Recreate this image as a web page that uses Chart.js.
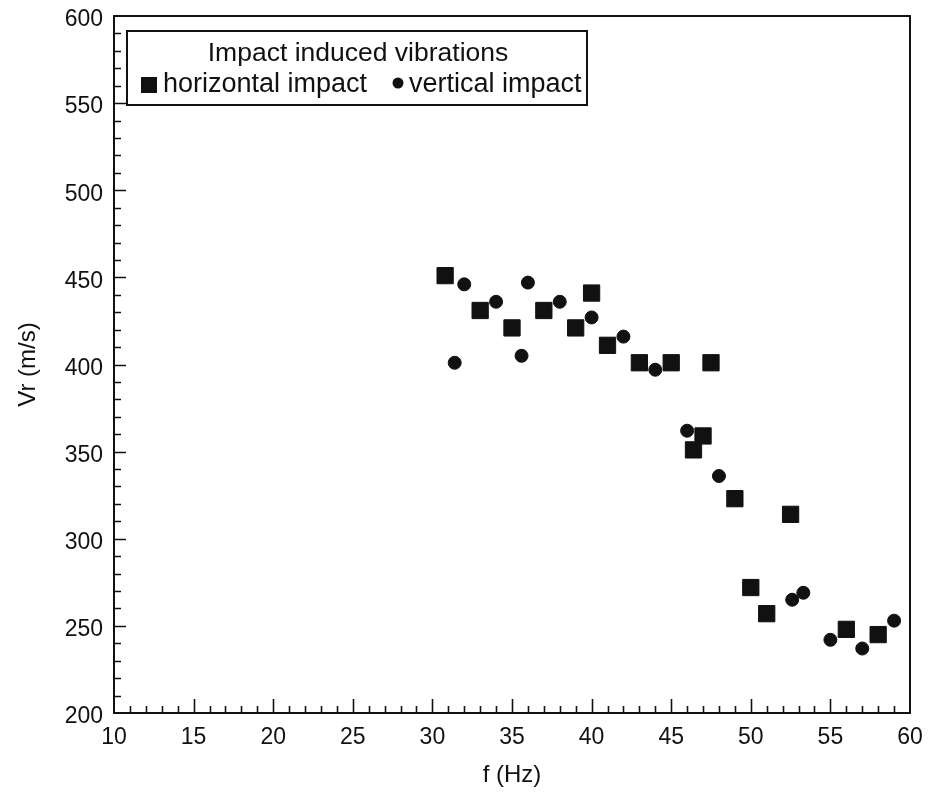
<!DOCTYPE html>
<html>
<head>
<meta charset="utf-8">
<script src="https://cdn.jsdelivr.net/npm/chart.js@4.4.1/dist/chart.umd.min.js"></script>
<style>
  html, body { margin: 0; padding: 0; background: #fff; }
  canvas { display: block; }
</style>
</head>
<body>
<canvas id="c" width="929" height="794"></canvas>
<script>
// ---- data ----
const legendTitle = 'Impact induced vibrations';
const seriesNames = ['horizontal impact', 'vertical impact'];
const xTitle = 'f (Hz)';
const yTitle = 'Vr (m/s)';

const horizFreq = [30.8, 33, 35, 37, 39, 40, 41, 43, 45, 47.5, 47, 46.4, 49, 52.5, 50, 51, 56, 58];
const horizVr   = [451, 431, 421, 431, 421, 441, 411, 401, 401, 401, 359, 351, 323, 314, 272, 257, 248, 245];

const vertFreq = [31.4, 32, 34, 36, 35.6, 38, 40, 42, 44, 46, 48, 52.6, 53.3, 55, 57, 59];
const vertVr   = [401, 446, 436, 447, 405, 436, 427, 416, 397, 362, 336, 265, 269, 242, 237, 253];

const xMin = 10, xMax = 60, xStep = 5, xMinorStep = 1;
const yMin = 200, yMax = 600, yStep = 50, yMinorStep = 10;

const INK = '#111';
const FONT = '"Liberation Sans", Arial, Helvetica, sans-serif';

const toPts = (xs, ys) => xs.map((x, i) => ({ x: x, y: ys[i] }));

// inward ticks + top/right frame
const framePlugin = {
  id: 'frame',
  afterDraw(chart) {
    const { ctx, chartArea: a, scales } = chart;
    ctx.save();
    ctx.strokeStyle = INK;
    ctx.lineWidth = 2;
    ctx.beginPath();
    ctx.moveTo(a.left, a.top); ctx.lineTo(a.right, a.top); ctx.lineTo(a.right, a.bottom);
    ctx.stroke();
    ctx.lineWidth = 1.6;
    ctx.beginPath();
    for (let v = xMin + xMinorStep; v < xMax; v += xMinorStep) {
      const px = Math.round(scales.x.getPixelForValue(v)) + 0.5;
      const len = (Math.abs(v % xStep) < 1e-9) ? 14 : 7;
      ctx.moveTo(px, a.bottom); ctx.lineTo(px, a.bottom - len);
    }
    for (let v = yMin + yMinorStep; v < yMax; v += yMinorStep) {
      const py = Math.round(scales.y.getPixelForValue(v)) + 0.5;
      const len = (Math.abs(v % yStep) < 1e-9) ? 12 : 7;
      ctx.moveTo(a.left, py); ctx.lineTo(a.left + len, py);
    }
    ctx.stroke();
    ctx.restore();
  }
};

// boxed legend with title, inside plot area
const boxLegend = {
  id: 'boxLegend',
  afterDraw(chart) {
    const { ctx } = chart;
    const ds = chart.data.datasets;
    const L = 127, T = 31, R = 587, B = 105;
    ctx.save();
    ctx.fillStyle = '#fff';
    ctx.fillRect(L, T, R - L, B - T);
    ctx.strokeStyle = INK;
    ctx.lineWidth = 2;
    ctx.strokeRect(L, T, R - L, B - T);
    ctx.fillStyle = INK;
    ctx.font = '26.5px ' + FONT;
    ctx.textBaseline = 'middle';
    ctx.textAlign = 'center';
    ctx.fillText(legendTitle, 358, 54);
    ctx.textAlign = 'left';
    ctx.font = '27px ' + FONT;
    // item 1: square
    ctx.fillRect(141, 77, 16, 16);
    ctx.fillText(ds[0].label, 163, 85);
    // item 2: circle
    ctx.beginPath();
    ctx.arc(398, 83, 5.5, 0, Math.PI * 2);
    ctx.fill();
    ctx.fillText(ds[1].label, 409, 85);
    ctx.restore();
  }
};

new Chart(document.getElementById('c'), {
  type: 'scatter',
  data: {
    datasets: [
      {
        label: seriesNames[0],
        data: toPts(horizFreq, horizVr),
        pointStyle: 'rect',
        pointRadius: 11.5,
        backgroundColor: INK,
        borderColor: INK,
        borderWidth: 1
      },
      {
        label: seriesNames[1],
        data: toPts(vertFreq, vertVr),
        pointStyle: 'circle',
        pointRadius: 6.5,
        backgroundColor: INK,
        borderColor: INK,
        borderWidth: 1
      }
    ]
  },
  options: {
    responsive: false,
    animation: false,
    layout: { padding: { top: 16, right: 19, left: 0, bottom: 0 } },
    plugins: { legend: { display: false }, tooltip: { enabled: false } },
    scales: {
      x: {
        type: 'linear', min: xMin, max: xMax,
        ticks: { stepSize: xStep, color: INK, font: { family: FONT, size: 23 }, padding: 11, maxRotation: 0 },
        grid: { display: false, drawTicks: false },
        border: { display: true, color: INK, width: 2 },
        title: { display: true, text: xTitle, color: INK, font: { family: FONT, size: 24 }, padding: { top: 0, bottom: 4 } },
        afterFit(s) { s.height = 81; s.paddingLeft = 0; s.paddingRight = 0; }
      },
      y: {
        type: 'linear', min: yMin, max: yMax,
        ticks: { stepSize: yStep, color: INK, font: { family: FONT, size: 23 }, padding: 11, labelOffset: 4 },
        grid: { display: false, drawTicks: false },
        border: { display: true, color: INK, width: 2 },
        title: { display: true, text: yTitle, color: INK, font: { family: FONT, size: 24 }, padding: { top: 14, bottom: 0 } },
        afterFit(s) { s.width = 114; s.paddingTop = 0; s.paddingBottom = 0; }
      }
    }
  },
  plugins: [framePlugin, boxLegend]
});
</script>
</body>
</html>
